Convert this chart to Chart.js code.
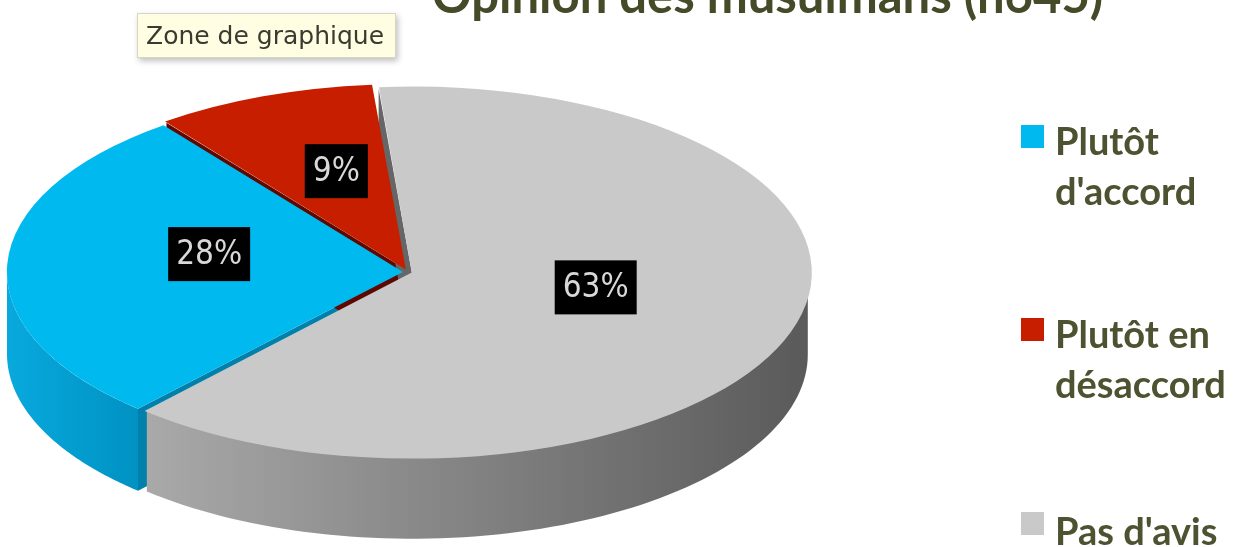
<!DOCTYPE html>
<html lang="fr">

<head>
  <meta charset="UTF-8">
  <title>Opinion des musulmans</title>
  <script src="https://cdn.jsdelivr.net/npm/chart.js"></script>
  <style>
    body { margin: 0; background: #fff; overflow: hidden; }
    #wrap { position: relative; width: 1233px; height: 547px; overflow: hidden; }
    #pie { position: absolute; left: 0; top: 0; }
    .title {
      position: absolute; left: 432px; top: -30px; white-space: nowrap;
      font: bold 49px/49px Lato, sans-serif; color: #454b28;
    }
    .tip {
      position: absolute; left: 137px; top: 13px; width: 259px; height: 45px;
      background: #fffde2; border: 1px solid #d8d6c0; box-shadow: 2px 3px 6px rgba(0,0,0,0.25);
      font: 25px/43px "DejaVu Sans", sans-serif; color: #3a3a30; padding-left: 8px; box-sizing: border-box;
      white-space: nowrap;
    }
    .legend-item { position: absolute; left: 1021px; }
    .legend-item .box { position: absolute; left: 0; width: 23px; height: 23px; }
    .legend-item .txt {
      position: absolute; left: 34px; top: 0; white-space: nowrap;
      font: bold 38px/50px Lato, sans-serif; color: #4d5230;
    }
  </style>
</head>

<body>

  <div id="wrap">
    <canvas id="pie" width="1233" height="547"></canvas>
    <div class="title">Opinion des musulmans (n645)</div>
    <div class="tip">Zone de graphique</div>
    <div id="legend"></div>
  </div>

  <script>
    // data
    const labels = ["Plutôt d'accord", "Plutôt en désaccord", "Pas d'avis"];
    const legendLines = [["Plutôt", "d'accord"], ["Plutôt en", "désaccord"], ["Pas d'avis"]];
    const values = [28, 9, 63];

    const topColors = ['#00b9ef', '#c81e00', '#c9c9c9'];
    const sideColors = [['#08a9de', '#0092c3'], ['#9a1600', '#7a1000'], ['#a9a9a9', '#5a5a5a']];
    const faceColors = ['#0081ab', '#5e0800', '#666666'];

    const TILT = 0.465;   // vertical squash of the pie
    const DEPTH = 82;     // thickness of the pie in px
    const LABEL_R = 0.49; // label distance, share of the radius
    const LABEL_LIFT = 14;

    // legend (html)
    const legendTops = [115, 308, 505];
    const legend = document.getElementById('legend');
    legendLines.forEach((lines, i) => {
      const item = document.createElement('div');
      item.className = 'legend-item';
      item.style.top = legendTops[i] + 'px';
      item.innerHTML = '<div class="box" style="top:' + (i === 2 ? 7 : 10) + 'px;background:' + topColors[i] + '"></div>' +
        '<div class="txt">' + lines.join('<br>') + '</div>';
      legend.appendChild(item);
    });

    function arcGeom(arc) {
      const p = arc.getProps(['x', 'y', 'startAngle', 'endAngle', 'outerRadius'], true);
      const off = (arc.options.offset || 0) / 4;
      const half = (p.startAngle + p.endAngle) / 2;
      return {
        x: p.x + Math.cos(half) * off,
        y: p.y + Math.sin(half) * off,
        r: p.outerRadius, s: p.startAngle, e: p.endAngle, half: half
      };
    }

    const pie3d = {
      id: 'pie3d',
      beforeDatasetsDraw(chart) {
        const ctx = chart.ctx;
        const cy = (chart.chartArea.top + chart.chartArea.bottom) / 2;
        const sy = y => cy + TILT * (y - cy);
        const geoms = chart.getDatasetMeta(0).data.map(arcGeom);

        // cut faces seen through the gaps
        geoms.forEach((g, i) => {
          if (Math.cos(g.s) < 0) {
            const rx = g.x + g.r * Math.cos(g.s), ry = sy(g.y + g.r * Math.sin(g.s));
            ctx.beginPath();
            ctx.moveTo(g.x, sy(g.y));
            ctx.lineTo(rx, ry);
            ctx.lineTo(rx, ry + DEPTH);
            ctx.lineTo(g.x, sy(g.y) + DEPTH);
            ctx.closePath();
            ctx.fillStyle = faceColors[i];
            ctx.fill();
          }
        });

        // outer walls (front half only)
        geoms.forEach((g, i) => {
          [[0, Math.PI], [2 * Math.PI, 3 * Math.PI]].forEach(([a, b]) => {
            const t0 = Math.max(a, g.s), t1 = Math.min(b, g.e);
            if (t1 <= t0) return;
            const pt = t => [g.x + g.r * Math.cos(t), sy(g.y + g.r * Math.sin(t))];
            const n = 80;
            ctx.beginPath();
            for (let k = 0; k <= n; k++) {
              const [px, py] = pt(t0 + (t1 - t0) * k / n);
              k ? ctx.lineTo(px, py) : ctx.moveTo(px, py);
            }
            for (let k = n; k >= 0; k--) {
              const [px, py] = pt(t0 + (t1 - t0) * k / n);
              ctx.lineTo(px, py + DEPTH);
            }
            ctx.closePath();
            const x0 = Math.min(pt(t0)[0], pt(t1)[0]), x1 = Math.max(pt(t0)[0], pt(t1)[0]);
            const grad = ctx.createLinearGradient(x0, 0, x1, 0);
            grad.addColorStop(0, sideColors[i][0]);
            grad.addColorStop(1, sideColors[i][1]);
            ctx.fillStyle = grad;
            ctx.fill();
          });
        });

        // squash the top faces drawn by chart.js
        ctx.save();
        ctx.translate(0, cy);
        ctx.scale(1, TILT);
        ctx.translate(0, -cy);
      },
      afterDatasetsDraw(chart) {
        const ctx = chart.ctx;
        ctx.restore();
        const cy = (chart.chartArea.top + chart.chartArea.bottom) / 2;
        const total = values.reduce((a, b) => a + b, 0);
        chart.getDatasetMeta(0).data.forEach((arc, i) => {
          const g = arcGeom(arc);
          const x = g.x + Math.cos(g.half) * g.r * LABEL_R;
          const y = cy + TILT * (g.y + Math.sin(g.half) * g.r * LABEL_R - cy) - LABEL_LIFT;
          const txt = Math.round(values[i] / total * 100) + '%';
          ctx.font = '33px "DejaVu Sans Condensed", "DejaVu Sans", sans-serif';
          const w = ctx.measureText(txt).width + 16;
          ctx.fillStyle = '#000';
          ctx.fillRect(x - w / 2, y - 27, w, 54);
          ctx.fillStyle = '#d8d8d8';
          ctx.textAlign = 'center';
          ctx.textBaseline = 'middle';
          ctx.fillText(txt, x, y + 1);
        });
      }
    };

    new Chart(document.getElementById('pie'), {
      type: 'pie',
      data: {
        labels: labels,
        datasets: [{
          data: values,
          backgroundColor: topColors,
          borderWidth: 0,
          offset: [20, 24, 16]
        }]
      },
      options: {
        responsive: false,
        animation: false,
        events: [],
        rotation: 222,
        radius: 396,
        layout: { padding: { left: 0, right: 417, top: 0, bottom: 3 } },
        plugins: {
          legend: { display: false },
          tooltip: { enabled: false }
        }
      },
      plugins: [pie3d]
    });
  </script>

</body>

</html>
